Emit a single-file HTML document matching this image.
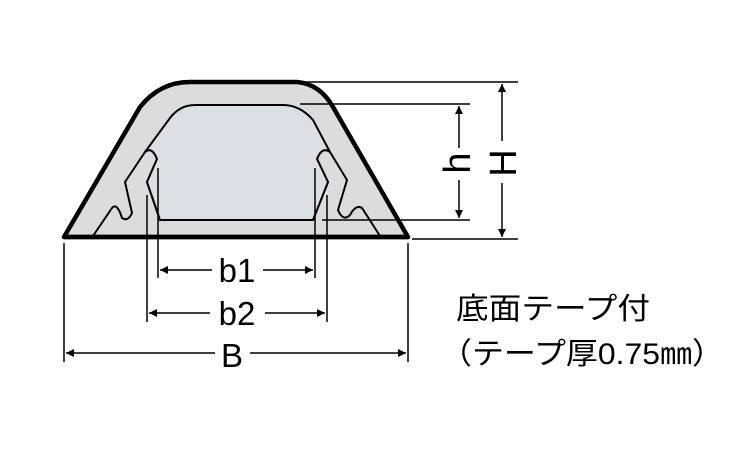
<!DOCTYPE html>
<html><head><meta charset="utf-8"><style>html,body{margin:0;padding:0;background:#fff}svg{display:block}</style></head>
<body>
<svg width="750" height="450" viewBox="0 0 750 450" xmlns="http://www.w3.org/2000/svg">
<defs>
<marker id="a" viewBox="0 0 10 10" refX="10" refY="5" markerWidth="10" markerHeight="8" orient="auto-start-reverse" markerUnits="userSpaceOnUse"><path d="M0,0 L10,5 L0,10 Z" fill="#000"/></marker>
</defs>
<path d="M64,237 L140,107 Q160,82 190,82 L297,82 Q320,84 333,107 L408,237 Z" fill="#dcdcdc" stroke="#000" stroke-width="4.5" stroke-linejoin="round"/>
<path d="M93,236 L112,208 Q117,202 122,218 Q128,222 132,213 L125,182 L145,152 Q152,146 157,159 L147,182 L160,220 L313,220 L328,182 L317,159 Q322,146 330,152 L347,180 L338,210 Q343,222 350,215 Q356,204 362,208 L380,236" fill="none" stroke="#000" stroke-width="2"/>
<path d="M145,152 L170,118 Q180,105 195,105 L283,105 Q300,105 313,120 L330,152 Q322,146 317,159 L328,182 L313,220 L160,220 L147,182 L157,159 Q152,146 145,152 Z" fill="#dde0e2" stroke="#000" stroke-width="2"/>
<line x1="64" y1="237" x2="408" y2="237" stroke="#000" stroke-width="4.5"/>
<g stroke="#000" stroke-width="1.5">
<line x1="298" y1="82" x2="518" y2="82"/>
<line x1="300" y1="104" x2="470" y2="104"/>
<line x1="322" y1="220" x2="470" y2="220"/>
<line x1="412" y1="239" x2="518" y2="239"/>
<line x1="158" y1="168" x2="158" y2="278"/>
<line x1="315" y1="168" x2="315" y2="278"/>
<line x1="147" y1="195" x2="147" y2="322"/>
<line x1="327" y1="195" x2="327" y2="322"/>
<line x1="64" y1="243" x2="64" y2="362"/>
<line x1="408" y1="243" x2="408" y2="362"/>
</g>
<g stroke="#000" stroke-width="1.5">
<line x1="459" y1="106" x2="459" y2="148" marker-start="url(#a)"/>
<line x1="459" y1="180" x2="459" y2="218" marker-end="url(#a)"/>
<line x1="502" y1="84" x2="502" y2="141" marker-start="url(#a)"/>
<line x1="502" y1="183" x2="502" y2="237" marker-end="url(#a)"/>
<line x1="160" y1="270" x2="212" y2="270" marker-start="url(#a)"/>
<line x1="263" y1="270" x2="313" y2="270" marker-end="url(#a)"/>
<line x1="149" y1="313" x2="210" y2="313" marker-start="url(#a)"/>
<line x1="265" y1="313" x2="325" y2="313" marker-end="url(#a)"/>
<line x1="66" y1="353" x2="215" y2="353" marker-start="url(#a)"/>
<line x1="250" y1="353" x2="406" y2="353" marker-end="url(#a)"/>
</g>
<g font-family="Liberation Sans, sans-serif" font-size="33" fill="#000" text-anchor="middle">
<text x="237" y="282">b1</text>
<text x="237" y="325">b2</text>
<text x="232" y="367">B</text>
</g>
<g font-family="Liberation Sans, sans-serif" font-size="38" fill="#000" text-anchor="middle">
<text transform="translate(470,163) rotate(-90)">h</text>
<text transform="translate(516,163) rotate(-90)">H</text>
</g>
<g font-family="Liberation Sans, 'Noto Sans CJK JP', sans-serif" font-size="30" fill="#000">
<text x="456" y="319" textLength="194" lengthAdjust="spacingAndGlyphs">底面テープ付</text>
<text x="440" y="364" textLength="284" lengthAdjust="spacingAndGlyphs">（テープ厚0.75㎜）</text>
</g>
</svg>
</body></html>
